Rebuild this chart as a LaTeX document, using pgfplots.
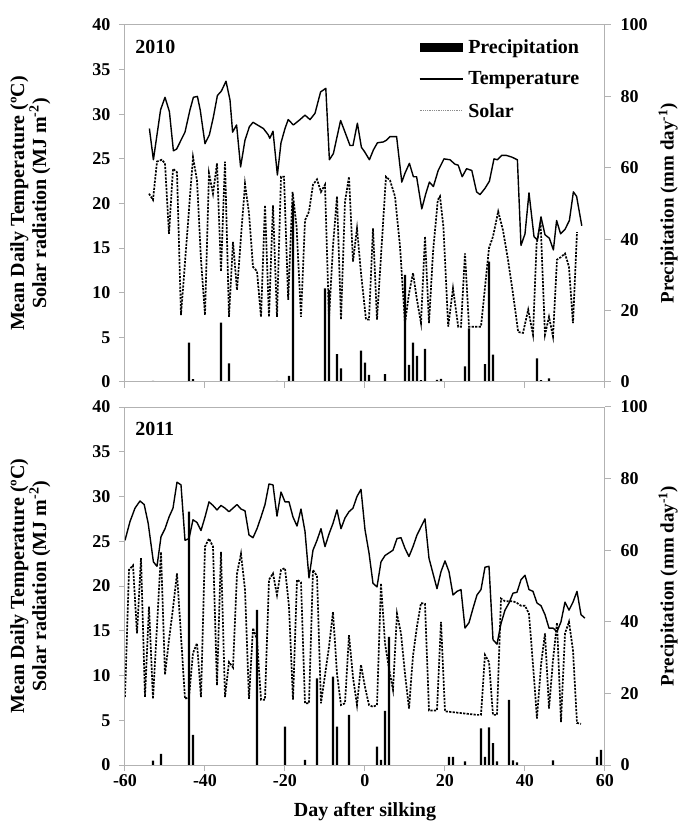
\documentclass[border=0pt]{standalone}
\usepackage{fontspec}
\setmainfont{Liberation Serif}
\usepackage{pgfplots}
\pgfplotsset{compat=1.18}
\newcommand{\fs}[1]{\fontsize{#1}{#1}\selectfont}

\pgfplotstableread{
d T
-53.9 28.4
-52.9 24.9
-51.1 30.5
-50.0 31.9
-48.9 30.3
-47.9 25.9
-47.1 26.1
-45.0 28.0
-43.75 30.5
-42.9 31.9
-41.9 32.0
-41.2 30.5
-40.0 26.7
-38.9 27.7
-37.9 29.7
-36.9 32.1
-35.9 32.6
-34.75 33.7
-33.75 31.6
-33.1 28.0
-32.1 28.8
-31.1 24.1
-30.0 27.1
-28.9 28.6
-28.0 29.1
-26.9 28.8
-25.4 28.4
-24.2 27.7
-23.8 27.3
-23.0 28.1
-21.9 23.2
-21.0 26.8
-20.0 28.4
-19.2 29.4
-17.9 28.8
-16.25 29.4
-15.0 29.9
-13.75 29.4
-12.5 30.1
-11.1 32.5
-9.8 32.9
-8.9 24.9
-7.9 25.6
-6.1 29.3
-5.0 28.0
-3.75 26.5
-3.0 26.5
-1.9 29.0
-0.9 26.3
-0.1 25.8
1.1 24.9
2.1 26.0
3.1 26.8
4.6 26.9
5.4 27.1
6.25 27.5
7.9 27.5
9.2 22.4
10.0 23.4
11.1 24.5
12.1 23.0
12.9 23.0
14.2 19.4
15.2 21.1
16.1 22.4
17.1 21.9
18.3 23.7
19.75 25.0
21.25 24.9
22.5 24.4
23.3 24.3
24.3 23.0
25.4 23.9
26.7 23.7
27.9 21.3
28.75 21.0
30.0 21.7
31.1 22.5
32.25 25.0
33.1 24.9
34.2 25.4
35.25 25.4
36.7 25.2
38.1 24.9
39.0 15.3
40.0 16.6
41.0 21.2
42.25 16.3
43.1 15.9
44.0 18.5
45.0 16.5
46.1 16.1
47.1 14.8
47.9 18.1
48.9 16.6
50.0 17.1
51.1 18.1
52.1 21.3
52.9 20.8
54.2 17.5
}\tempA

\pgfplotstableread{
d S
-54 21.1
-53 20.4
-52 24.7
-50.8 24.9
-50 24.5
-49 16.6
-48 23.9
-47 23.5
-46 7.5
-43 25.2
-42 22.6
-41 13.7
-40 7.5
-39 23.4
-38 21.1
-37 24.5
-36 12.4
-35 24.7
-34 7.3
-33 15.7
-32 10.3
-30 22.2
-29 18.9
-28 12.9
-27 12.4
-26 7.3
-25 19.8
-24 7.3
-23 19.8
-22 7.3
-21 23.0
-20.25 23.0
-19.2 9.2
-18.1 21.3
-17.1 17.4
-16 7.3
-15 18.1
-14 19.1
-13 22.1
-12 22.7
-11 21.3
-10 22.1
-9 7.1
-8 15.2
-7 20.8
-6 7.0
-5 20.2
-4 23.0
-3 13.5
-2 17.2
-1 12.2
0.25 7.0
1 7.0
2 17.2
3 7.0
5.25 23.0
6.25 22.6
7.5 20.8
8.75 15.2
10 6.6
11 9.9
12 12.2
13 9.2
14 6.6
15 16.3
16 6.6
17 14.5
18.2 20.4
18.75 20.8
19.6 17.4
20.8 6.2
22 10.5
23.3 6.2
24 6.2
25 14.4
26 6.2
28 6.2
29 6.2
31 15.0
32 16.3
33.3 19.1
34.5 17.0
35.75 13.7
37 9.9
38.3 5.6
39.5 5.5
40.8 8.1
42 5.3
42.9 15.5
43.9 17.8
45 5.3
46 7.3
47 5.1
48 13.7
49 14.0
50 14.4
51 12.9
52 6.6
53 16.8
}\solA

\pgfplotstableread{
d P
-53 0.3
-44 11.0
-43 0.8
-36 16.6
-34 5.2
-22 0.3
-19 1.7
-18 50.5
-10 26.2
-9 25.8
-7 7.8
-6 3.8
-1 8.8
0 5.4
1 2.0
5 2.2
10 30.0
11 4.8
12 11.0
13 7.3
14 0.5
15 9.3
18 0.6
19 0.9
25 4.4
26 15.0
30 5.0
31 33.7
32 7.7
43 6.6
44 0.5
46 1.0
}\precA

\pgfplotstableread{
d T
-60 25.1
-58.75 27.2
-57.5 28.7
-56.25 29.5
-55.2 29.1
-54.2 27.0
-52.9 22.7
-52 22.2
-51 25.5
-50 26.4
-49 27.7
-48 28.7
-47 31.6
-46 31.3
-45 25.1
-44 25.3
-43 27.4
-42 27.1
-41 26.2
-40 27.7
-39 29.4
-38 29.0
-37 28.5
-36 29.0
-35 28.7
-34 28.3
-33 28.7
-32 29.1
-31 28.6
-30 28.4
-29 25.7
-28 25.4
-27 26.4
-26 27.7
-25 29.1
-24 31.4
-23 31.3
-22 27.8
-21 30.5
-20 29.4
-19 29.4
-18 27.7
-17 26.7
-16 28.6
-15 26.1
-14 20.9
-13 24.0
-12 25.1
-11 26.4
-10 24.4
-9 25.8
-8 27.0
-7 28.5
-6 26.4
-5 27.6
-4 28.3
-3 28.7
-2 30.0
-1 30.8
0 26.3
1 23.7
2 20.3
3 19.9
4 22.7
5 23.4
6 23.7
7 24.0
8 25.3
9 25.4
10 24.2
11 23.3
12 24.4
13 25.7
15 27.5
16 23.1
17 21.4
18 19.7
19 21.6
20 22.8
21 21.6
22 19.0
23 19.4
24 19.6
25 15.3
26 15.9
27 17.5
28 19.0
29 19.6
30 22.1
31 22.2
32 14.0
33 13.5
34 15.8
35 17.3
36 18.1
37 19.2
38 19.3
39 20.7
40 21.2
41 19.6
42 19.4
43 18.1
44 17.8
45 16.8
46 15.3
47 15.3
48 14.9
49 16.0
50 18.2
51 17.3
52 18.2
53 19.4
54 16.8
55 16.4
}\tempB

\pgfplotstableread{
d S
-60 7.6
-59 21.8
-58 22.3
-57 14.7
-56 23.1
-55 7.6
-54 17.7
-53 7.4
-52 15.5
-51 23.8
-50 10.1
-49 14.0
-48 17.5
-47 21.4
-45 7.4
-44 7.6
-43 12.5
-42 13.6
-41 7.6
-40 24.4
-39 25.3
-38 24.4
-37 8.9
-36 23.8
-35 7.6
-34 11.5
-33 10.9
-32 21.4
-31 23.6
-30 19.6
-29 7.4
-28 15.3
-27 14.0
-26 7.3
-25 7.3
-24 20.7
-23 21.4
-22 19.0
-21 21.8
-20 22.0
-19 17.7
-18 7.3
-17 20.7
-16 20.4
-15 6.9
-14 6.9
-13 21.8
-12 21.1
-11 6.9
-9 13.2
-8 17.1
-7 10.2
-6 6.7
-5 6.9
-4 14.5
-3 9.8
-2 6.7
-1 11.2
0 8.7
1 6.7
2 6.5
3 6.7
4 20.3
5 13.6
6 10.8
7 8.4
8 16.9
9 14.7
10 10.2
11 6.3
12 12.2
13 15.5
14 18.1
15 18.0
16 6.1
17 6.1
18 6.1
19 16.0
20 6.0
22 5.9
24 5.8
26 5.7
28 5.6
29 5.6
30 12.3
31 11.5
32 5.6
33 5.6
34 18.6
35 18.3
36 18.3
37 18.3
38 18.1
39 17.8
40 17.8
41 16.9
42 11.2
43 5.2
44 11.2
45 14.7
46 6.3
47 11.7
48 15.9
49 4.8
50 14.7
51 16.0
52 12.8
53 4.7
54 4.6
}\solB

\pgfplotstableread{
d P
-53 1.2
-51 3.1
-44 70.8
-43 8.4
-27 43.3
-20 10.7
-15 1.4
-12 24.2
-8 24.7
-7 10.7
-4 14.0
3 5.1
4 1.4
5 15.1
6 35.8
21 2.3
22 2.3
25 1.0
29 10.2
30 2.3
31 10.5
32 6.1
33 1.0
36 18.2
37 1.3
38 0.7
47 1.3
58 2.3
59 4.2
}\precB

\pgfplotsset{
  base/.style={scale only axis, width=480pt, xmin=-60, xmax=60, xtick={-60,-40,...,60},
    axis line style={draw=black!30, line width=1pt},
    tick style={draw=black!30, line width=1pt},
    tick align=outside, major tick length=6pt,
    /pgf/number format/assume math mode=true,
    tick label style={font=\bfseries\fs{18}},
  },
  leftax/.style={base, ymin=0, ymax=40, ytick={0,5,...,40}, xtick pos=bottom, ytick pos=left,
    yticklabel style={xshift=-5pt},
    every axis y label/.style={at={(axis description cs:-0.148,0.5)}, anchor=south, rotate=90, align=center, font=\bfseries\fs{20}},
    ylabel={Mean Daily Temperature (ºC)\\Solar radiation (MJ m\textsuperscript{-2})}},
  rightax/.style={base, ymin=0, ymax=100, ytick={0,20,...,100}, axis y line*=right, axis x line=none,
    yticklabel style={xshift=6pt},
    every axis y label/.style={at={(axis description cs:1.111,0.5)}, anchor=north, rotate=90, inner sep=0pt, font=\bfseries\fs{19}},
    ylabel={Precipitation (mm day\textsuperscript{-1})}},
  temp/.style={black, line width=1.4pt, line join=round},
  sol/.style={black, line width=1.7pt, dash pattern=on 2.2pt off 1.3pt},
  prec/.style={ybar, bar width=2.4pt, fill=black, draw=none},
}

\begin{document}
\begin{tikzpicture}
\useasboundingbox (-125pt,-57pt) rectangle (555pt,765pt);
% ---------- 2010 ----------
\begin{axis}[rightax, at={(0pt,383pt)}, anchor=south west, height=357pt,
  legend style={at={(rel axis cs:0.612,0.966)}, anchor=north west, draw=none, fill=none,
    font=\bfseries\fs{20}, row sep=13pt, inner sep=0pt, column sep=3pt},
  legend cell align=left]
\addplot[prec, legend image code/.code={\fill[black] (0pt,-4.5pt) rectangle (43pt,4.5pt);}] table[x=d,y=P] {\precA};
\addlegendentry{Precipitation}
\addlegendimage{legend image code/.code={\draw[black, line width=1.3pt] (0pt,0pt) -- (43pt,0pt);}}
\addlegendentry{Temperature}
\addlegendimage{legend image code/.code={\draw[black!45, line width=1pt, dash pattern=on 1pt off 0.8pt] (0pt,0pt) -- (43pt,0pt);}}
\addlegendentry{Solar}
\end{axis}
\begin{axis}[leftax, at={(0pt,383pt)}, anchor=south west, height=357pt, xticklabels={}]
\addplot[temp] table[x=d,y=T] {\tempA};
\addplot[sol] table[x=d,y=S] {\solA};
\node[anchor=north west, font=\bfseries\fs{20}] at (rel axis cs:0.014,0.968) {2010};
\end{axis}
% ---------- 2011 ----------
\begin{axis}[rightax, at={(0pt,0pt)}, anchor=south west, height=358pt]
\addplot[prec] table[x=d,y=P] {\precB};
\end{axis}
\begin{axis}[leftax, at={(0pt,0pt)}, anchor=south west, height=358pt,
  xticklabels={-60,-40,-20,0,20,40,60},
  every axis x label/.style={at={(axis description cs:0.5,-0.13)}, anchor=center, font=\bfseries\fs{20}},
  xlabel={Day after silking}]
\addplot[temp] table[x=d,y=T] {\tempB};
\addplot[sol] table[x=d,y=S] {\solB};
\node[anchor=north west, font=\bfseries\fs{20}] at (rel axis cs:0.014,0.968) {2011};
\end{axis}
\end{tikzpicture}
\end{document}
